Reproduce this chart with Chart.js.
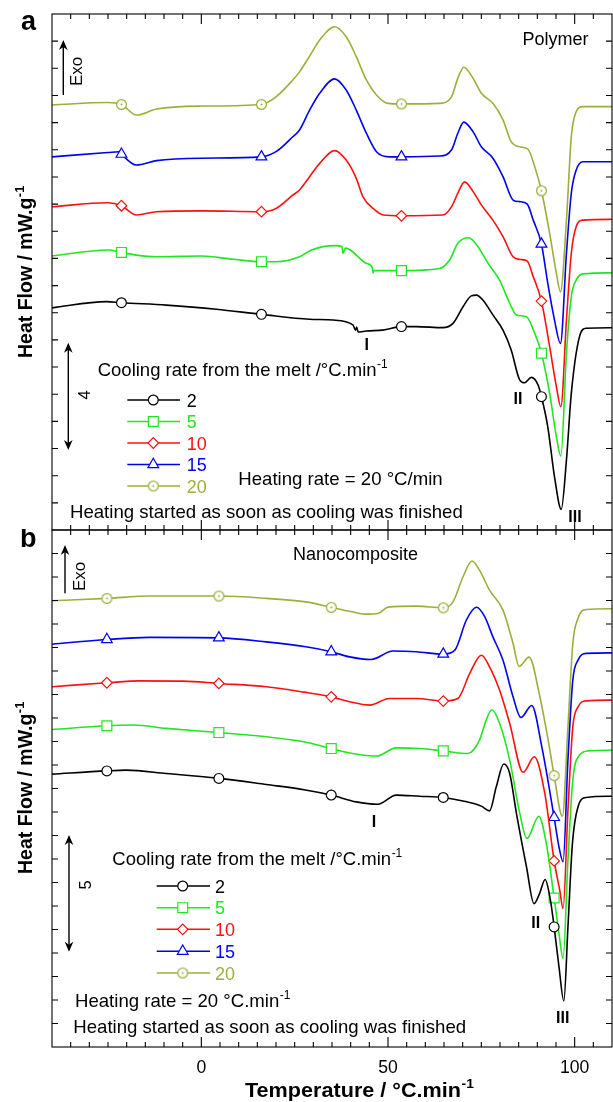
<!DOCTYPE html>
<html><head><meta charset="utf-8">
<script src="https://cdn.jsdelivr.net/npm/chart.js@4.4.1/dist/chart.umd.min.js"></script>
<style>
html,body{margin:0;padding:0;background:#fff;}
#wrap{position:relative;width:613px;height:1102px;overflow:hidden;background:#fff;}
canvas{position:absolute;left:0;}
#ca{top:0;}
#cb{top:529px;}
</style></head><body>
<div id="wrap"><canvas id="ca" width="613" height="531"></canvas><canvas id="cb" width="613" height="573"></canvas></div>
<script>
// ---------- shared categories ----------
const rates = ['2', '5', '10', '15', '20'];
const xTickLabels = [0, 50, 100];
const markerTempsA = [-21.4, 16.1, 53.6, 91.1];
const markerTempsB = [-25.3, 4.7, 34.8, 64.8, 94.5];

// ---------- panel a : Polymer ----------
const tA2  = [-40,-25.4,-21.4,-9.4,4,16.1,29,35.3,40.6,41.3,41.6,42,44.2,48.6,53.6,57.6,64.7,67.4,70.1,72.3,73.7,75.4,78.1,80.8,83,85.3,86.6,88.4,90.2,91.1,92.8,94.6,96.4,97.8,99.1,101.3,103.1,110];
const hfA2 = [8.18,8.41,8.37,8.28,8.13,7.94,7.76,7.73,7.55,7.36,7.47,7.29,7.33,7.36,7.49,7.49,7.45,7.61,8.22,8.62,8.65,8.47,7.92,7.36,6.63,5.52,5.42,5.62,5.34,4.91,3.80,1.96,0.76,2.58,5.03,7.12,7.43,7.45];

const tA5  = [-40,-25,-21.4,-17.4,-12,0,8.5,16.1,20,26.3,29.5,35.7,37.7,37.9,38.6,44.2,45.8,46.0,46.2,53.6,63.8,66.5,68.7,71.6,74.1,76.8,79.9,82.6,84.4,87.1,89.3,91.1,93.3,95.1,96.3,97.8,99.1,100.4,102.2,110];
const hfA5 = [10.09,10.31,10.22,10.12,10.06,10.09,9.97,9.88,9.88,10.06,10.31,10.47,10.44,10.18,10.38,9.82,9.65,9.46,9.55,9.55,9.63,9.94,10.56,10.76,10.43,9.82,9.20,8.35,7.92,7.85,7.24,6.51,5.03,3.44,2.72,6.51,8.59,9.20,9.43,9.47];

const tA10  = [-40,-25,-21.4,-17.4,-12,0,16.1,20,24.5,26.3,29,31.7,35.7,38.8,41.5,43.3,46,48.7,53.6,64.7,67,68.7,70.5,72.8,75,78.1,80.8,83.5,85.5,87.3,88.9,91.1,93.3,95.1,96.3,97.8,99.1,100.4,102.2,110];
const hfA10 = [11.90,12.05,11.94,11.60,11.72,11.75,11.72,11.84,12.33,12.52,13.01,13.50,13.97,13.62,12.95,12.27,11.84,11.60,11.57,11.60,11.90,12.40,12.82,12.46,11.97,11.41,10.80,10.06,9.96,9.90,9.33,8.43,6.75,5.28,4.54,7.73,10.19,11.17,11.41,11.44];

const tA15  = [-40,-25,-22,-21.4,-17.4,-12,0,16.1,20,24.5,26.3,29,31.7,35.7,38.8,41.5,44.2,46.9,50.4,53.6,63.8,67,68.7,70.3,72.8,75,78.1,80.8,83.5,85.3,87.3,88.9,91.1,92.8,94.6,96.2,97.8,99.1,100.4,102.2,110];
const hfA15 = [13.74,13.90,13.93,13.84,13.44,13.60,13.69,13.74,13.93,14.48,14.73,15.46,16.08,16.61,16.20,15.46,14.61,13.93,13.74,13.74,13.77,13.99,14.61,15.02,14.66,14.11,13.69,13.01,12.15,12.09,12.00,11.41,10.53,9.08,7.73,6.87,10.19,12.40,13.25,13.56,13.56];

const tA20  = [-40,-25,-21.4,-17.4,-12,0,16.1,20,24.5,26.3,29,31.7,35.7,38.8,41.5,44.2,46.9,50,53.6,63.8,67,68.7,70.3,72.8,75,78.1,80.8,83,85.3,87.5,89.3,91.1,93.3,95.1,96.2,97.8,99.1,100.4,102.2,110];
const hfA20 = [15.65,15.74,15.67,15.28,15.50,15.61,15.67,15.95,16.57,16.87,17.45,18.04,18.53,18.16,17.43,16.57,16.02,15.71,15.69,15.71,15.95,16.63,17.04,16.63,16.08,15.71,15.10,14.30,14.11,14.02,13.38,12.49,10.92,9.45,8.77,11.41,14.48,15.40,15.59,15.59];

// ---------- panel b : Nanocomposite ----------
const tB2  = [-40,-25.3,-20.1,-9.4,4.7,17.4,27.5,34.8,41.5,47.3,52.2,58.5,64.8,70.1,75,77.2,79,81,82.6,84.4,87.1,89.1,90.6,92.1,93.5,94.5,95.8,97.1,98.2,99.4,100.9,103.1,110];
const hfB2 = [11.61,11.75,11.78,11.64,11.43,11.17,10.95,10.72,10.43,10.33,10.72,10.67,10.62,10.47,10.25,10.05,11.07,12.04,11.64,9.94,7.66,6.10,6.53,7.13,6.25,5.11,3.41,1.96,5.11,8.66,10.22,10.62,10.67];

const tB5  = [-40,-25.3,-18.3,-9.4,4.7,17.4,27.5,34.8,40.6,46.9,52.2,58.5,64.8,71.4,74.5,76.3,77.8,79.9,82.6,85.3,87.2,90.4,92.4,94.5,95.8,96.9,98.2,99.5,101.3,103.6,110];
const hfB5 = [13.51,13.67,13.70,13.56,13.38,13.20,12.99,12.70,12.49,12.38,12.73,12.70,12.60,12.49,13.06,13.91,14.35,13.77,12.21,9.94,8.87,9.82,8.66,6.34,4.83,3.76,7.95,11.35,12.42,12.60,12.63];

const tB10  = [-40,-25.3,-16.5,-4.9,4.7,17.4,27.5,34.8,39.7,45.1,50.4,57.6,64.8,68.7,71.9,75,77.2,79.9,82.6,86.2,89.2,92,94.5,96,96.9,98.2,99.5,100.9,103.1,110];
const hfB10 = [15.33,15.50,15.58,15.57,15.47,15.33,15.10,14.90,14.69,14.55,14.83,14.83,14.72,14.83,15.90,16.67,16.18,15.18,13.77,11.69,12.35,10.79,7.92,6.67,5.89,10.08,13.62,14.47,14.73,14.76];

const tB15  = [-40,-25.3,-13.9,4.7,17.4,28,34.8,39.7,45.5,51.3,57.6,64.8,67.9,71,73.7,75.9,78.1,80.8,83.5,85.6,88.5,91.2,94.5,95.8,96.9,98.2,99.5,100.9,103.1,110];
const hfB15 = [17.14,17.34,17.43,17.41,17.24,17.03,16.82,16.60,16.49,16.85,16.82,16.72,16.89,18.17,18.71,18.31,17.45,16.46,14.90,14.02,14.53,12.77,9.77,8.51,7.88,12.21,15.61,16.46,16.75,16.77];

const tB20  = [-40,-25.3,-13.9,4.7,17.4,28,34.8,41.5,44,47.5,50,57.6,64.8,67.4,70.1,72.5,74.5,77.2,80.8,83.5,85.1,87.8,90.6,92.9,94.5,96.7,98.2,99.5,100.9,103.1,110];
const hfB20 = [18.99,19.09,19.19,19.19,19.09,18.94,18.71,18.48,18.42,18.46,18.72,18.76,18.69,18.94,20.01,20.68,20.29,19.44,18.59,17.17,16.19,16.59,14.97,13.06,11.55,9.82,13.62,17.17,18.24,18.62,18.65];

// ---------- styles ----------
const FONT = '"Liberation Sans", Arial, Helvetica, sans-serif';
const colors = ['#000000', '#22e622', '#ff1010', '#0000ee', '#9ab03a'];

function makeDotCircle(color) {
  const c = document.createElement('canvas');
  c.width = 13; c.height = 13;
  const g = c.getContext('2d');
  g.fillStyle = '#fff'; g.strokeStyle = color; g.lineWidth = 1.2;
  g.beginPath(); g.arc(6.5, 6.5, 4.9, 0, 2 * Math.PI); g.fill(); g.stroke();
  g.fillStyle = color; g.beginPath(); g.arc(6.5, 6.5, 1.0, 0, 2 * Math.PI); g.fill();
  return c;
}
const pointStyles = ['circle', 'rect', 'rectRot', 'triangle', makeDotCircle(colors[4])];
const pointRadii = [4.9, 7.0, 5.3, 6.2, 4.9];

function buildDatasets(tArrs, hArrs, markers) {
  return tArrs.map((ts, s) => ({
    label: rates[s],
    data: ts.map((t, i) => ({ x: t, y: hArrs[s][i] })),
    borderColor: colors[s],
    backgroundColor: '#ffffff',
    borderWidth: 1.6,
    cubicInterpolationMode: 'monotone',
    fill: false,
    pointStyle: pointStyles[s],
    pointBorderColor: colors[s],
    pointBackgroundColor: '#ffffff',
    pointBorderWidth: 1.2,
    pointRadius: (ctx) => (ctx.raw && markers.includes(ctx.raw.x)) ? pointRadii[s] : 0,
    pointHoverRadius: 0
  }));
}

// ---------- drawing helpers ----------
function txt(ctx, s, x, y, font, color, align) {
  ctx.font = font; ctx.fillStyle = color || '#000'; ctx.textAlign = align || 'left';
  ctx.textBaseline = 'alphabetic'; ctx.fillText(s, x, y);
}
function txtSup(ctx, main, sup, x, y, font, supFont, rise, color) {
  txt(ctx, main, x, y, font, color);
  ctx.font = font; const w = ctx.measureText(main).width;
  txt(ctx, sup, x + w + 0.5, y - rise, supFont, color);
}
function rotText(ctx, s, x, y, font, align, sup, supFont, rise) {
  ctx.save(); ctx.translate(x, y); ctx.rotate(-Math.PI / 2);
  txt(ctx, s, 0, 0, font, '#000', align || 'left');
  if (sup) { ctx.font = font; const w = ctx.measureText(s).width; txt(ctx, sup, w + 0.5, -rise, supFont, '#000'); }
  ctx.restore();
}
function arrowHead(ctx, x, tipY, dir) { // dir -1 = pointing up, +1 = pointing down
  ctx.beginPath();
  ctx.moveTo(x, tipY);
  ctx.lineTo(x - 4.3, tipY - dir * 10);
  ctx.lineTo(x, tipY - dir * 7);
  ctx.lineTo(x + 4.3, tipY - dir * 10);
  ctx.closePath(); ctx.fill();
}
function vArrow(ctx, x, y1, y2, both) { // y1 = top tip, y2 = bottom
  ctx.save(); ctx.strokeStyle = '#000'; ctx.fillStyle = '#000'; ctx.lineWidth = 1.4;
  ctx.beginPath(); ctx.moveTo(x, y1 + 5); ctx.lineTo(x, both ? y2 - 5 : y2); ctx.stroke();
  arrowHead(ctx, x, y1, -1);
  if (both) arrowHead(ctx, x, y2, 1);
  ctx.restore();
}
function drawMarker(ctx, s, x, y) {
  ctx.save();
  ctx.strokeStyle = colors[s]; ctx.fillStyle = '#fff'; ctx.lineWidth = 1.2;
  Chart.helpers.drawPoint(ctx, { pointStyle: pointStyles[s], radius: pointRadii[s], rotation: 0, borderWidth: 1.2 }, x, y);
  ctx.restore();
}
function drawLegend(ctx, headerX, headerY, lineX1, lineX2, markX, labelX, rowYs, oy) {
  txtSup(ctx, 'Cooling rate from the melt /°C.min', '-1', headerX, headerY - oy, '18.5px ' + FONT, '12px ' + FONT, 8, '#000');
  rowYs.forEach((ry, s) => {
    const y = ry - oy;
    ctx.save(); ctx.strokeStyle = colors[s]; ctx.lineWidth = 1.6;
    ctx.beginPath(); ctx.moveTo(lineX1, y); ctx.lineTo(lineX2, y); ctx.stroke(); ctx.restore();
    drawMarker(ctx, s, markX, y);
    txt(ctx, rates[s], labelX, y + 6.6, '18px ' + FONT, colors[s]);
  });
}
function drawFrame(chart) {
  const { ctx, chartArea: a } = chart;
  const x = chart.scales.x, y = chart.scales.y;
  ctx.save(); ctx.strokeStyle = '#000'; ctx.lineWidth = 1.1;
  ctx.strokeRect(a.left, a.top, a.right - a.left, a.bottom - a.top);
  ctx.beginPath();
  for (let t = x.min + 5; t < x.max; t += 5) {
    const px = x.getPixelForValue(t);
    const L = xTickLabels.includes(t) ? 10 : 5;
    ctx.moveTo(px, a.bottom); ctx.lineTo(px, a.bottom - L);
    ctx.moveTo(px, a.top); ctx.lineTo(px, a.top + L);
  }
  for (let v = y.min + 1; v < y.max; v++) {
    const py = y.getPixelForValue(v);
    ctx.moveTo(a.left, py); ctx.lineTo(a.left + 6, py);
    ctx.moveTo(a.right, py); ctx.lineTo(a.right - 6, py);
  }
  ctx.stroke(); ctx.restore();
}

function baseOptions(yMax, padding) {
  return {
    responsive: false, animation: false, devicePixelRatio: 1, events: [],
    layout: { padding: padding },
    plugins: { legend: { display: false }, tooltip: { enabled: false }, title: { display: false } },
    scales: {
      x: { type: 'linear', min: -40, max: 110, display: false },
      y: { type: 'linear', min: 0, max: yMax, display: false }
    }
  };
}

// ---------- panel a ----------
const decorA = {
  id: 'decorA',
  afterDraw(chart) {
    const ctx = chart.ctx; const oy = 0;
    drawFrame(chart);
    txt(ctx, 'a', 21, 30, 'bold 27px ' + FONT);
    txt(ctx, 'Polymer', 522.5, 45, '18px ' + FONT);
    vArrow(ctx, 63.3, 40, 95, false);
    rotText(ctx, 'Exo', 82, 86, '17px ' + FONT);
    vArrow(ctx, 68.3, 342.7, 450, true);
    rotText(ctx, '4', 90, 395, '16.5px ' + FONT, 'center');
    drawLegend(ctx, 97.7, 376, 127.3, 180, 153.3, 186.7, [400, 421.5, 443, 464.5, 486], oy);
    txt(ctx, 'Heating rate = 20 °C/min', 238.3, 485, '18.6px ' + FONT);
    txt(ctx, 'Heating started as soon as cooling was finished', 70, 518.3, '18.6px ' + FONT);
    txt(ctx, 'I', 366.7, 350, 'bold 16px ' + FONT, '#000', 'center');
    txt(ctx, 'II', 518, 404, 'bold 16px ' + FONT, '#000', 'center');
    txt(ctx, 'III', 575, 521.7, 'bold 16px ' + FONT, '#000', 'center');
    rotText(ctx, 'Heat Flow / mW.g', 32, 358, 'bold 19.5px ' + FONT, 'left', '-1', 'bold 13px ' + FONT, 8);
  }
};
new Chart(document.getElementById('ca'), {
  type: 'line',
  data: { datasets: buildDatasets([tA2, tA5, tA10, tA15, tA20], [hfA2, hfA5, hfA10, hfA15, hfA20], markerTempsA) },
  options: baseOptions(19, { left: 52, right: 1, top: 14, bottom: 1 }),
  plugins: [decorA]
});

// ---------- panel b ----------
const decorB = {
  id: 'decorB',
  afterDraw(chart) {
    const ctx = chart.ctx; const oy = 529;
    drawFrame(chart);
    txt(ctx, 'b', 20, 546.7 - oy, 'bold 27px ' + FONT);
    txt(ctx, 'Nanocomposite', 418, 560 - oy, '18px ' + FONT, '#000', 'right');
    vArrow(ctx, 65, 545 - oy, 593.3 - oy, false);
    rotText(ctx, 'Exo', 85, 591 - oy, '17px ' + FONT);
    vArrow(ctx, 69, 835 - oy, 951.7 - oy, true);
    rotText(ctx, '5', 90.7, 885 - oy, '16.5px ' + FONT, 'center');
    drawLegend(ctx, 112.3, 865, 156.7, 210, 182.7, 215, [886, 907.7, 929.3, 951.2, 973], oy);
    txtSup(ctx, 'Heating rate = 20 °C.min', '-1', 75, 1006.7 - oy, '18.6px ' + FONT, '12px ' + FONT, 8, '#000');
    txt(ctx, 'Heating started as soon as cooling was finished', 73.3, 1032.5 - oy, '18.6px ' + FONT);
    txt(ctx, 'I', 374, 826.7 - oy, 'bold 16px ' + FONT, '#000', 'center');
    txt(ctx, 'II', 535.7, 928.3 - oy, 'bold 16px ' + FONT, '#000', 'center');
    txt(ctx, 'III', 562.7, 1022.7 - oy, 'bold 16px ' + FONT, '#000', 'center');
    rotText(ctx, 'Heat Flow / mW.g', 32, 874 - oy, 'bold 19.5px ' + FONT, 'left', '-1', 'bold 13px ' + FONT, 8);
    // x tick labels from the library scale
    const xs = chart.scales.x;
    xTickLabels.forEach(v => txt(ctx, String(v), xs.getPixelForValue(v), 1072.7 - oy, '17.6px ' + FONT, '#000', 'center'));
    // x axis title
    ctx.save();
    ctx.font = 'bold 19.5px ' + FONT;
    const mainT = 'Temperature / °C.min';
    const w = ctx.measureText(mainT).width;
    const sx = 216 / w;
    ctx.translate(245, 1097 - oy); ctx.scale(sx, 1);
    txt(ctx, mainT, 0, 0, 'bold 19.5px ' + FONT);
    txt(ctx, '-1', w + 0.5, -9, 'bold 12.5px ' + FONT);
    ctx.restore();
  }
};
new Chart(document.getElementById('cb'), {
  type: 'line',
  data: { datasets: buildDatasets([tB2, tB5, tB10, tB15, tB20], [hfB2, hfB5, hfB10, hfB15, hfB20], markerTempsB) },
  options: baseOptions(22, { left: 52, right: 1, top: 1, bottom: 55 }),
  plugins: [decorB]
});
</script>
</body></html>
